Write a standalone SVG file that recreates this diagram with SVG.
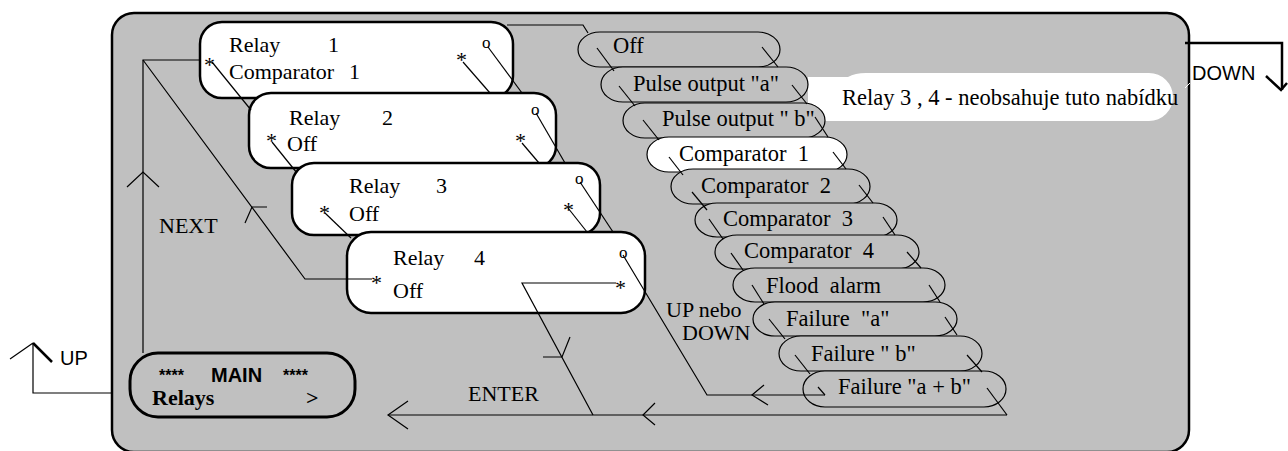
<svg xmlns="http://www.w3.org/2000/svg" width="1288" height="451" viewBox="0 0 1288 451">
<style>
.panel{fill:#c0c0c0;stroke:#000;stroke-width:2.5}
.relay{fill:#fff;stroke:#000;stroke-width:2.5}
.pill{fill:#c0c0c0;stroke:#000;stroke-width:1.2}
.pillw{fill:#fff;stroke:#000;stroke-width:1.2}
.t{font-family:"Liberation Serif","Times New Roman",serif;font-size:22px;fill:#000;white-space:pre}
.tp{font-family:"Liberation Serif","Times New Roman",serif;font-size:22.5px;fill:#000;white-space:pre}
.st{font-family:"Liberation Serif","Times New Roman",serif;font-size:22px;fill:#000}
.o{font-family:"Liberation Serif","Times New Roman",serif;font-size:17px;fill:#000}
.s{font-family:"Liberation Sans",Arial,sans-serif;font-size:20px;fill:#000}
.c{fill:none;stroke:#000;stroke-width:1.2}
.thick{fill:none;stroke:#000;stroke-width:2.5}
</style>
<rect class="panel" x="112" y="13" width="1077" height="439" rx="22"/>

<g id="callout">
<path d="M808,77 L848,77 Q855,73 866,73 L1149,73 A24,24 0 0 1 1149,121 L808,121 Z" fill="#fff"/>
<text class="tp" x="842" y="105">Relay 3 , 4 - neobsahuje tuto nabídku</text>
<line x1="1185" y1="88" x2="1190" y2="83" stroke="#fff" stroke-width="1"/>
</g>

<g id="relay1">
<rect class="relay" x="200" y="22" width="313" height="76" rx="22"/>
<text class="t" x="229" y="52">Relay</text><text class="t" x="328" y="52">1</text>
<text class="t" x="229" y="79">Comparator</text><text class="t" x="349" y="79">1</text>
<text class="st" x="204" y="72">*</text><text class="st" x="456" y="67">*</text><text class="o" x="482" y="48">o</text>
</g>
<g id="relay2">
<rect class="relay" x="249" y="93" width="307" height="75" rx="22"/>
<text class="t" x="289" y="125">Relay</text><text class="t" x="382" y="125">2</text>
<text class="t" x="287" y="151">Off</text>
<text class="st" x="266" y="148">*</text><text class="st" x="515" y="148">*</text><text class="o" x="531" y="115">o</text>
</g>
<g id="relay3">
<rect class="relay" x="292" y="163" width="308" height="72" rx="22"/>
<text class="t" x="349" y="193">Relay</text><text class="t" x="436" y="193">3</text>
<text class="t" x="349" y="221">Off</text>
<text class="st" x="319" y="220">*</text><text class="st" x="563" y="217">*</text><text class="o" x="575" y="184">o</text>
</g>
<g id="relay4">
<rect class="relay" x="347" y="232" width="298" height="81" rx="24"/>
<text class="t" x="393" y="265">Relay</text><text class="t" x="474" y="265">4</text>
<text class="t" x="393" y="298">Off</text>
<text class="st" x="371" y="290">*</text><text class="st" x="615" y="295">*</text><text class="o" x="619" y="258">o</text>
</g>

<g id="main">
<rect x="130" y="353" width="225" height="64" rx="28" fill="#c0c0c0" stroke="#000" stroke-width="3"/>
<text x="159" y="381" style="font-family:'Liberation Sans',Arial,sans-serif;font-size:16px;font-weight:bold">****</text>
<text x="211" y="382" style="font-family:'Liberation Sans',Arial,sans-serif;font-size:20px;font-weight:bold">MAIN</text>
<text x="283" y="381" style="font-family:'Liberation Sans',Arial,sans-serif;font-size:16px;font-weight:bold">****</text>
<text x="152" y="405" style="font-family:'Liberation Serif',serif;font-size:22px;font-weight:bold">Relays</text>
<text x="306" y="405" style="font-family:'Liberation Serif',serif;font-size:22px;font-weight:bold">&gt;</text>
</g>

<g id="p-off"><rect class="pill" x="578" y="32" width="202" height="35" rx="22" ry="17.5"/><text class="tp" x="613" y="53">Off</text></g>
<g id="p-pulse-a"><rect class="pill" x="601" y="67" width="207" height="35" rx="22" ry="17.5"/><text class="tp" x="633" y="91">Pulse output "a"</text></g>
<g id="p-pulse-b"><rect class="pill" x="623" y="103" width="202" height="35" rx="22" ry="17.5"/><text class="tp" x="662" y="126">Pulse output " b"</text></g>
<g id="p-comp1"><rect class="pillw" x="647" y="137" width="200" height="35" rx="22" ry="17.5"/><text class="tp" x="679" y="161">Comparator  1</text></g>
<g id="p-comp2"><rect class="pill" x="671" y="169" width="199" height="35" rx="22" ry="17.5"/><text class="tp" x="701" y="193">Comparator  2</text></g>
<g id="p-comp3"><rect class="pill" x="695" y="203" width="202" height="34" rx="22" ry="17"/><text class="tp" x="723" y="226">Comparator  3</text></g>
<g id="p-comp4"><rect class="pill" x="715" y="235" width="204" height="34" rx="22" ry="17"/><text class="tp" x="744" y="258">Comparator  4</text></g>
<g id="p-flood"><rect class="pill" x="733" y="268" width="212" height="34" rx="22" ry="17"/><text class="tp" x="766" y="293">Flood  alarm</text></g>
<g id="p-fail-a"><rect class="pill" x="753" y="302" width="204" height="34" rx="22" ry="17"/><text class="tp" x="786" y="326">Failure  "a"</text></g>
<g id="p-fail-b"><rect class="pill" x="779" y="336" width="203" height="35" rx="22" ry="17.5"/><text class="tp" x="811" y="361">Failure " b"</text></g>
<g id="p-fail-ab"><rect class="pill" x="803" y="371" width="203" height="36" rx="22" ry="18"/><text class="tp" x="838" y="394">Failure "a + b"</text></g>

<g id="connectors" class="c">
<path d="M200,60 H143 V353"/>
<path d="M143,60 L305,279 H372"/>
<path d="M127,187 L143,172 L159,187"/>
<path d="M267,207 H252 L245,223"/>
<path d="M507,25 H583 L588,33"/>
<path d="M212,62 L251,110"/>
<path d="M463,62 L490,93"/>
<path d="M488,47 L522,93"/>
<path d="M272,142 L297,173"/>
<path d="M522,143 L539,163"/>
<path d="M536,113 L565,163"/>
<path d="M325,213 L351,238"/>
<path d="M568,208 L587,232"/>
<path d="M580,182 L613,232"/>
<path d="M623,255 L707,395 H825"/>
<path d="M764,385 L752,395 L768,405"/>
<path d="M1007,415 H388"/>
<path d="M408,401 L388,415 L408,429"/>
<path d="M655,403 L643,415 L655,425"/>
<path d="M616,283 H522 L593,415"/>
<path d="M543,357 H562 L570,337"/>
<path d="M597,48 L614,71"/>
<path d="M762,47 L778,67"/>
<path d="M619,86 L635,106"/>
<path d="M792,85 L807,104"/>
<path d="M643,120 L659,140"/>
<path d="M815,117 L828,137"/>
<path d="M669,157 L683,175"/>
<path d="M833,152 L846,169"/>
<path d="M692,192 L707,210"/>
<path d="M859,185 L873,203"/>
<path d="M709,219 L723,239"/>
<path d="M883,217 L895,235"/>
<path d="M731,253 L743,270"/>
<path d="M907,252 L921,268"/>
<path d="M752,285 L764,304"/>
<path d="M929,285 L940,302"/>
<path d="M769,319 L785,339"/>
<path d="M945,317 L957,335"/>
<path d="M795,355 L810,374"/>
<path d="M967,355 L982,372"/>
<path d="M818,387 L825,395"/>
<path d="M987,388 L1007,415"/>
</g>

<g id="labels">
<text class="st" x="159" y="233">NEXT</text>
<text class="st" x="468" y="401">ENTER</text>
<text class="st" x="666" y="317">UP nebo</text>
<text class="st" x="682" y="340">DOWN</text>
</g>

<g id="up-key">
<path class="c" d="M33,343 V393 H112"/>
<path class="c" d="M10,359 L33,343"/>
<path class="thick" d="M33,343 L52,362"/>
<text class="s" x="60" y="365">UP</text>
</g>
<g id="down-key">
<path class="thick" d="M1185,43 H1282 V90"/>
<path class="thick" d="M1266,76 L1281,90 L1287,83"/>
<text class="s" x="1192" y="80">DOWN</text>
</g>
</svg>
